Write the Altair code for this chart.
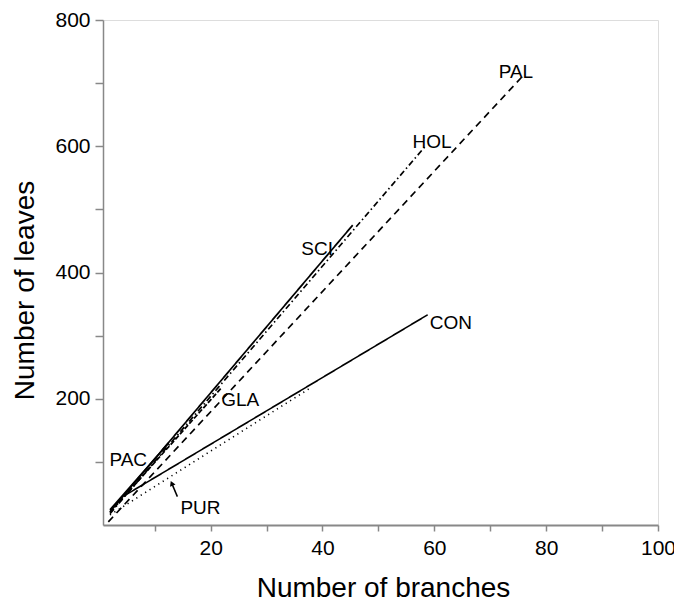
import altair as alt
import pandas as pd

# Line series (start and end points)
series = ["PAC", "GLA", "SCI", "HOL", "PAL", "CON", "PUR"]
x_start = [2.0, 2.0, 2.0, 2.0, 1.7, 4.5, 2.0]
y_start = [24, 20, 21, 18, 5, 46, 16]
x_end = [12.5, 22.0, 45.4, 58.3, 76.0, 58.8, 38.0]
y_end = [130, 218, 475, 599, 713, 333, 218]

# Labels
label_text = ["PAL", "HOL", "SCI", "GLA", "PAC", "CON", "PUR"]
label_x = [71.5, 56.1, 36.2, 21.9, 1.9, 59.2, 14.6]
label_y = [718, 607, 438, 198, 103, 320, 27]

# Arrow pointing at PUR line
arrow_x = [14.05, 13.05]
arrow_y = [45, 66]

rows = []
for s, xa, ya, xb, yb in zip(series, x_start, y_start, x_end, y_end):
    rows.append({"series": s, "x": xa, "y": ya, "o": 0})
    rows.append({"series": s, "x": xb, "y": yb, "o": 1})
lines_df = pd.DataFrame(rows)

labels_df = pd.DataFrame({"t": label_text, "x": label_x, "y": label_y})
arrow_df = pd.DataFrame({"x": [arrow_x[0]], "y": [arrow_y[0]], "x2": [arrow_x[1]], "y2": [arrow_y[1]]})
tip_df = pd.DataFrame({"x": [arrow_x[1]], "y": [arrow_y[1]]})

FONT = "Liberation Sans"

xscale = alt.Scale(domain=[0.75, 100], nice=False, zero=False)
yscale = alt.Scale(domain=[0, 800], nice=False)

xaxis = alt.Axis(
    title="Number of branches",
    values=[10, 20, 30, 40, 50, 60, 70, 80, 90, 100],
    labelExpr="datum.value % 20 == 0 ? datum.label : ''",
    grid=False, tickSize=6, labelPadding=6, labelFontSize=21,
    titleFontSize=28, titleFontWeight="normal",
    titleX=280, titleY=71, titleBaseline="alphabetic",
    domainWidth=2, tickWidth=1.5, labelFlush=False,
)
yaxis = alt.Axis(
    title="Number of leaves",
    values=[100, 200, 300, 400, 500, 600, 700, 800],
    labelExpr="datum.value % 200 == 0 ? datum.label : ''",
    grid=False, tickSize=8, labelPadding=5, labelFontSize=21,
    titleFontSize=28, titleFontWeight="normal",
    titleX=-78, titleY=270, titleAlign="center", titleBaseline="middle",
    domainWidth=1.5, tickWidth=1.5,
)

dash_range = [[1, 0], [5, 2], [1, 0], [6, 3, 1.5, 3], [7, 5], [1, 0], [1.2, 4]]
width_range = [1.8, 1.6, 1.0, 1.0, 1.0, 1.0, 1.2]

lines = alt.Chart(lines_df).mark_line(color="black", strokeCap="butt").encode(
    x=alt.X("x:Q", scale=xscale, axis=xaxis),
    y=alt.Y("y:Q", scale=yscale, axis=yaxis),
    detail="series:N",
    order="o:Q",
    strokeDash=alt.StrokeDash("series:N", scale=alt.Scale(domain=series, range=dash_range), legend=None),
    strokeWidth=alt.StrokeWidth("series:N", scale=alt.Scale(domain=series, range=width_range), legend=None),
)

texts = alt.Chart(labels_df).mark_text(
    align="left", baseline="middle", fontSize=19, font=FONT, color="black"
).encode(
    x=alt.X("x:Q", scale=xscale),
    y=alt.Y("y:Q", scale=yscale),
    text="t:N",
)

arrow = alt.Chart(arrow_df).mark_rule(color="black", strokeWidth=1.5).encode(
    x=alt.X("x:Q", scale=xscale), y=alt.Y("y:Q", scale=yscale),
    x2="x2:Q", y2="y2:Q",
)
tip = alt.Chart(tip_df).mark_point(
    shape="triangle-up", filled=True, color="black", size=35, angle=337, opacity=1
).encode(
    x=alt.X("x:Q", scale=xscale), y=alt.Y("y:Q", scale=yscale),
)

chart = alt.layer(lines, arrow, tip, texts).properties(
    width=555, height=505,
    padding={"left": 103, "top": 20, "right": 16, "bottom": 78},
    autosize=alt.AutoSizeParams(type="none"),
).configure_view(stroke=None).configure_axis(
    domainColor="black", tickColor="black", labelColor="black", titleColor="black",
    labelFont=FONT, titleFont=FONT,
).configure(background="white")

chart.save("out.html", embed_options={"renderer": "svg", "actions": False})
